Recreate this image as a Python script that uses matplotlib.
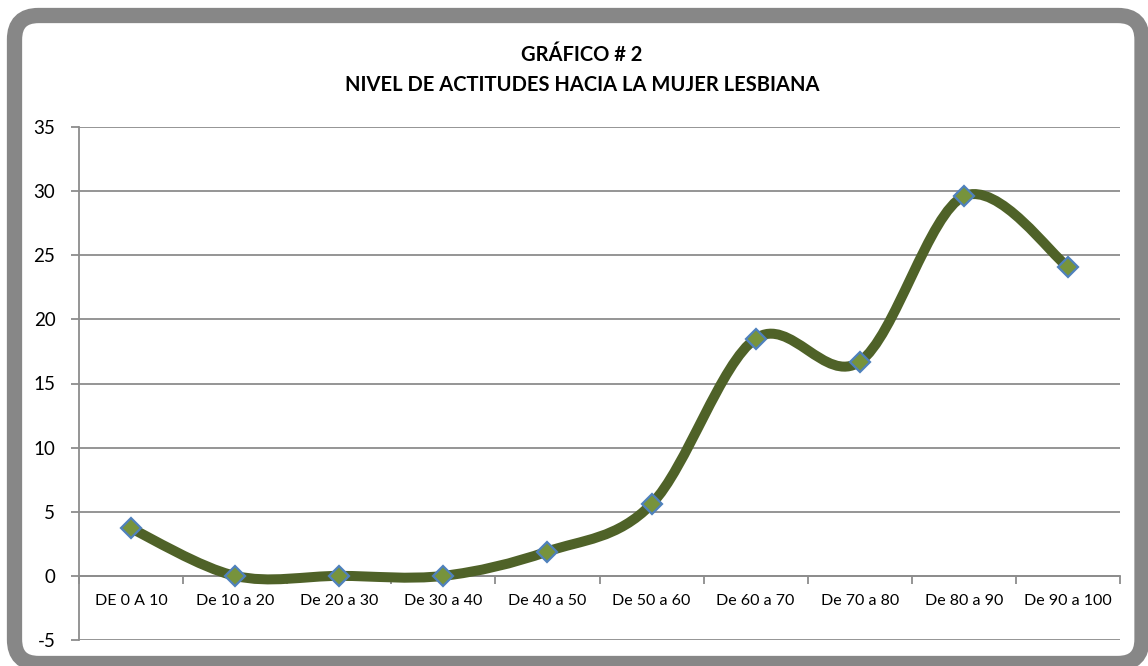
import numpy as np
import matplotlib
matplotlib.use("Agg")
import matplotlib.pyplot as plt
from matplotlib.path import Path
from matplotlib.patches import PathPatch, FancyBboxPatch

plt.rcParams['font.family'] = ['Lato', 'DejaVu Sans']
plt.rcParams['axes.unicode_minus'] = False

# datos
categorias = ["DE 0 A 10", "De 10 a 20", "De 20 a 30", "De 30 a 40", "De 40 a 50",
              "De 50 a 60", "De 60 a 70", "De 70 a 80", "De 80 a 90", "De 90 a 100"]
valores = [3.7, 0, 0, 0, 1.9, 5.6, 18.5, 16.7, 29.6, 24.1]
y_ticks = [-5, 0, 5, 10, 15, 20, 25, 30, 35]

fig = plt.figure(figsize=(11.48, 6.66), dpi=100)

# marco gris redondeado
bg = fig.add_axes([0, 0, 1, 1])
bg.set_xlim(0, 1148)
bg.set_ylim(666, 0)
bg.axis("off")
bg.add_patch(FancyBboxPatch((14.5, 15.5), 1127.5, 648,
                            boxstyle="round,pad=0,rounding_size=24",
                            facecolor="white", edgecolor="#878787", linewidth=11))

ax = fig.add_axes([79 / 1148, 26 / 666, (1120 - 79) / 1148, (640 - 127) / 666])
ax.set_facecolor("none")
x = np.arange(len(valores))
ax.set_xlim(-0.5, len(valores) - 0.5)
ax.set_ylim(-5, 35)

# linea suavizada (bezier tipo excel)
pts = np.column_stack([x, valores]).astype(float)
verts = [tuple(pts[0])]
codes = [Path.MOVETO]
n = len(pts)
for i in range(n - 1):
    p0 = pts[i - 1] if i > 0 else pts[i]
    p1 = pts[i]
    p2 = pts[i + 1]
    p3 = pts[i + 2] if i + 2 < n else pts[i + 1]
    c1 = p1 + (p2 - p0) / 6
    c2 = p2 - (p3 - p1) / 6
    verts += [tuple(c1), tuple(c2), tuple(p2)]
    codes += [Path.CURVE4] * 3
ax.add_patch(PathPatch(Path(verts, codes), facecolor="none", edgecolor="#4F6228",
                       linewidth=7.2, capstyle="round", joinstyle="round", zorder=3))
ax.plot(x, valores, linestyle="none", marker="D", markersize=10,
        markerfacecolor="#77933C", markeredgecolor="#4F81BD", markeredgewidth=1.6, zorder=4)

# rejilla
ax.set_yticks(y_ticks)
ax.yaxis.grid(True, color="#8C8C8C", linewidth=1.3)
ax.set_axisbelow(True)
ax.tick_params(axis="y", labelsize=13.5, length=6, color="#8C8C8C", width=1.3, pad=11)

for s in ["top", "right"]:
    ax.spines[s].set_visible(False)
ax.spines["left"].set_color("#8C8C8C")
ax.spines["left"].set_linewidth(1.3)
ax.spines["bottom"].set_position(("data", 0))
ax.spines["bottom"].set_color("#8C8C8C")
ax.spines["bottom"].set_linewidth(1.3)

ax.set_xticks(np.arange(-0.5, len(valores)), labels=[""] * (len(valores) + 1))
ax.set_xticks(x, labels=categorias, minor=True)
ax.tick_params(axis="x", which="major", length=6, color="#8C8C8C", width=1.3)
ax.tick_params(axis="x", which="minor", length=0, labelsize=11.5, pad=13)

fig.text(0.507, 0.918, "GRÁFICO # 2", ha="center", va="center", fontsize=14.5, fontweight="bold")
fig.text(0.507, 0.873, "NIVEL DE ACTITUDES HACIA LA MUJER LESBIANA", ha="center", va="center",
         fontsize=14.5, fontweight="bold")

fig.savefig("out.png", dpi=100)
